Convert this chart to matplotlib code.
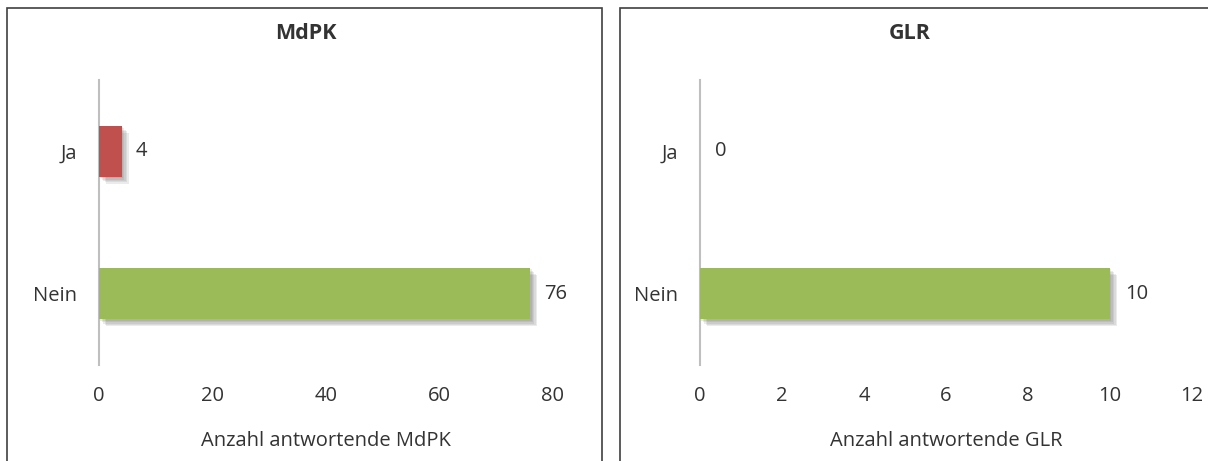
import matplotlib
matplotlib.use("Agg")
import matplotlib.pyplot as plt
import matplotlib.patheffects as pe
from matplotlib.patches import Rectangle

plt.rcParams['font.family'] = ['Open Sans', 'DejaVu Sans']

categories = ['Nein', 'Ja']
mdpk_values = [76, 4]
glr_values = [10, 0]
bar_colors = ['#9BBB59', '#C0504D']

W, H = 1208, 461
fig = plt.figure(figsize=(W / 100, H / 100), dpi=100)

# panel frames (open at the bottom, right one runs off the edge)
for x0, x1 in [(7, 602), (620, 1215)]:
    fig.add_artist(Rectangle((x0 / W, -0.1), (x1 - x0) / W, 1.1 - 8 / H,
                             transform=fig.transFigure, fill=False,
                             edgecolor='#404040', linewidth=1.2, clip_on=False))

txt = '#333333'
fs = 14.5

# soft drop shadow, a few stacked layers
shadow = [pe.SimplePatchShadow(offset=(d, -d), shadow_rgbFace='#606060', alpha=0.12)
          for d in (1, 2, 3, 4, 5)] + [pe.Normal()]

def panel(left, right, values, xmax, step, title, xlabel, title_x):
    ax = fig.add_axes([left / W, 1 - 365 / H, (right - left) / W, 285 / H])
    bars = ax.barh(range(len(categories)), values, height=0.36, color=bar_colors,
                   zorder=3)
    for b in bars:
        b.set_path_effects(shadow)
    ax.set_xlim(0, xmax)
    ax.set_ylim(-0.5, 1.5)
    ax.set_xticks(range(0, xmax + 1, step))
    ax.set_yticks(range(len(categories)))
    ax.set_yticklabels(categories)
    ax.tick_params(length=0, labelsize=fs, colors=txt, pad=16)
    ax.tick_params(axis='x', pad=15)
    for s in ['top', 'right', 'bottom']:
        ax.spines[s].set_visible(False)
    ax.spines['left'].set_color('#BFBFBF')
    ax.spines['left'].set_linewidth(1.5)
    ax.set_xlabel(xlabel, fontsize=fs, color=txt, labelpad=18)
    for i, v in enumerate(values):
        ax.text(v + xmax * 0.03, i, str(v), va='center', ha='left',
                fontsize=fs, color=txt)
    fig.text(title_x / W, 1 - 33 / H, title, ha='center', va='center',
             fontsize=15.5, fontweight='bold', color=txt)

panel(99, 553, mdpk_values, 80, 20, 'MdPK', 'Anzahl antwortende MdPK', 306)
panel(700, 1192, glr_values, 12, 2, 'GLR', 'Anzahl antwortende GLR', 910)

fig.savefig('out.png', dpi=100, facecolor='white')
